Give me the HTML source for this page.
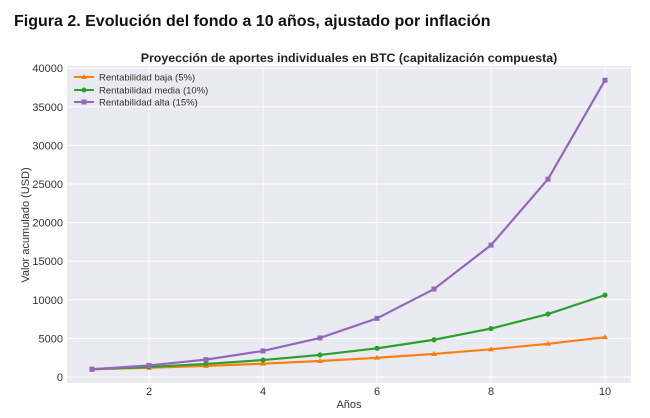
<!DOCTYPE html>
<html><head><meta charset="utf-8"><style>
body{margin:0;background:#fff;width:650px;height:413px;overflow:hidden;font-family:"Liberation Sans",sans-serif;}
</style></head><body>
<svg id="s" width="650" height="413" xmlns="http://www.w3.org/2000/svg" font-family="Liberation Sans, sans-serif">
<text x="14" y="26" font-size="16" font-weight="bold" fill="#111">Figura 2. Evolución del fondo a 10 años, ajustado por inflación</text>
<text x="349" y="62" font-size="12.4" font-weight="bold" fill="#222" text-anchor="middle">Proyección de aportes individuales en BTC (capitalización compuesta)</text>
<rect x="67" y="66" width="564" height="317" fill="#eaeaf2"/>
<g id="grid" stroke="#fff" stroke-width="1"></g>
<g id="ticks" font-size="11" fill="#333"></g>
<text x="349" y="408" font-size="11" fill="#333" text-anchor="middle">Años</text>
<text transform="translate(29,225) rotate(-90)" font-size="11" fill="#333" text-anchor="middle">Valor acumulado (USD)</text>
<g id="series"></g>
<g font-size="9.5" fill="#333">
<line x1="74" y1="77" x2="94" y2="77" stroke="#ff7f0e" stroke-width="2"/><polygon points="84,74 87,79 81,79" fill="#ff7f0e"/>
<text x="99" y="80.5">Rentabilidad baja (5%)</text>
<line x1="74" y1="90" x2="94" y2="90" stroke="#2ca02c" stroke-width="2"/><circle cx="84" cy="90" r="2.5" fill="#2ca02c"/>
<text x="99" y="93.5">Rentabilidad media (10%)</text>
<line x1="74" y1="102" x2="94" y2="102" stroke="#9467bd" stroke-width="2"/><rect x="81.5" y="99.5" width="5" height="5" fill="#9467bd"/>
<text x="99" y="105.5">Rentabilidad alta (15%)</text>
</g>
</svg>
<script>
const X=n=>92+(n-1)*57, Y=v=>377-v/5000*38.6;
let g='',t='';
for(let v=0;v<=40000;v+=5000){g+=`<line x1="67" x2="631" y1="${Y(v)}" y2="${Y(v)}"/>`;t+=`<text x="63" y="${Y(v)+4}" text-anchor="end">${v}</text>`;}
for(let n=2;n<=10;n+=2){g+=`<line y1="66" y2="383" x1="${X(n)}" x2="${X(n)}"/>`;t+=`<text x="${X(n)}" y="395" text-anchor="middle">${n}</text>`;}
document.getElementById('grid').innerHTML=g;document.getElementById('ticks').innerHTML=t;
let s='';
[[1.2,'#ff7f0e','t'],[1.3,'#2ca02c','c'],[1.5,'#9467bd','s']].forEach(([r,c,m])=>{
 let p=[];for(let n=1;n<=10;n++)p.push([X(n),Y(1000*Math.pow(r,n-1))]);
 s+=`<polyline fill="none" stroke="${c}" stroke-width="2.2" points="${p.map(q=>q.join(',')).join(' ')}"/>`;
 p.forEach(([x,y])=>{
  if(m=='t')s+=`<polygon points="${x},${y-3} ${x+3},${y+2} ${x-3},${y+2}" fill="${c}"/>`;
  else if(m=='c')s+=`<circle cx="${x}" cy="${y}" r="2.6" fill="${c}"/>`;
  else s+=`<rect x="${x-2.5}" y="${y-2.5}" width="5" height="5" fill="${c}"/>`;
 });
});
document.getElementById('series').innerHTML=s;
</script>
</body></html>
